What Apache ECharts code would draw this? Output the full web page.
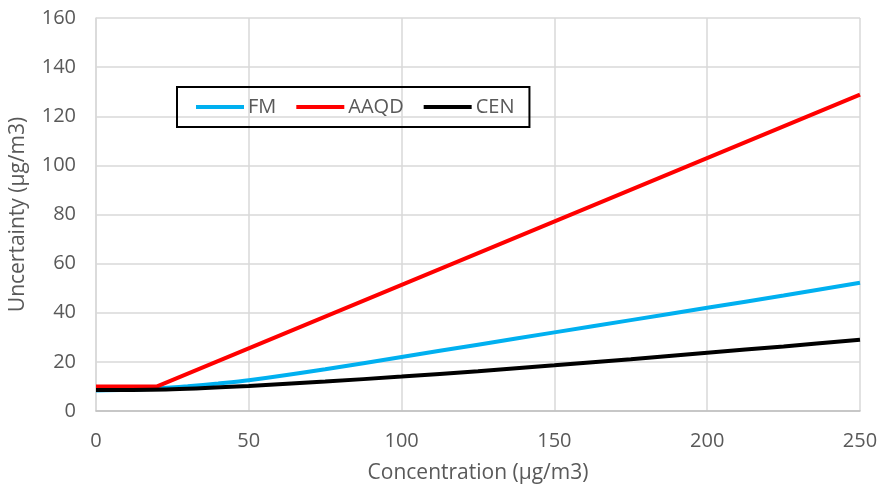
<!DOCTYPE html>
<html>
<head>
<meta charset="utf-8">
<script src="https://cdn.jsdelivr.net/npm/echarts@6/dist/echarts.min.js"></script>
<style>html,body{margin:0;padding:0;background:#fff}#c{width:879px;height:488px}</style>
</head>
<body>
<div id="c"></div>
<script>
const seriesNames = ['FM', 'AAQD', 'CEN'];
const fmData = [[0,8.3],[10,8.6],[20,9.2],[30,10.1],[40,11.2],[50,12.5],[75,17],[100,22],[125,27],[150,32],[175,37],[200,42],[225,47],[250,52.2]];
const aaqdData = [[0,10],[20,10],[250,128.8]];
const cenData = [[0,8.5],[25,8.9],[50,10.2],[75,12],[100,14],[125,16.2],[150,18.6],[175,21.1],[200,23.7],[225,26.3],[250,29]];
const xTitle = 'Concentration (µg/m3)';
const yTitle = 'Uncertainty (µg/m3)';

const font = 'Open Sans';
const fs = 20;
const txt = '#595959';
const chart = echarts.init(document.getElementById('c'));
chart.setOption({
  animation: false,
  grid: {left: 96, right: 19, top: 18, bottom: 77, containLabel: false, outerBoundsMode: 'none'},
  legend: {
    left: 177, top: 87,
    data: seriesNames,
    icon: 'rect', itemWidth: 48, itemHeight: 4, itemGap: 20,
    padding: [10, 15, 10, 19],
    borderColor: '#000', borderWidth: 2,
    textStyle: {fontFamily: font, fontSize: fs, color: txt, padding: [0,0,0,-1]}
  },
  xAxis: {
    type: 'value', min: 0, max: 250, interval: 50,
    name: xTitle, nameLocation: 'middle', nameGap: 52,
    nameTextStyle: {fontFamily: font, fontSize: 21, color: txt},
    axisLine: {show: true, lineStyle: {color: '#bfbfbf', width: 1.5}},
    axisTick: {show: false},
    axisLabel: {fontFamily: font, fontSize: fs, color: txt, margin: 20},
    splitLine: {show: true, lineStyle: {color: '#d9d9d9', width: 1.5}}
  },
  yAxis: {
    type: 'value', min: 0, max: 160, interval: 20,
    name: yTitle, nameLocation: 'middle', nameGap: 67,
    nameTextStyle: {fontFamily: font, fontSize: 21, color: txt},
    axisLine: {show: true, lineStyle: {color: '#d9d9d9', width: 1.5}},
    axisTick: {show: false},
    axisLabel: {fontFamily: font, fontSize: fs, color: txt, margin: 20},
    splitLine: {show: true, lineStyle: {color: '#d9d9d9', width: 1.5}}
  },
  series: [
    {name: 'FM', type: 'line', data: fmData, smooth: 0.3, showSymbol: false, lineStyle: {color: '#00b0f0', width: 4}, itemStyle: {color: '#00b0f0'}},
    {name: 'AAQD', type: 'line', data: aaqdData, showSymbol: false, lineStyle: {color: '#ff0000', width: 4}, itemStyle: {color: '#ff0000'}},
    {name: 'CEN', type: 'line', data: cenData, smooth: 0.3, showSymbol: false, lineStyle: {color: '#000000', width: 4}, itemStyle: {color: '#000000'}}
  ]
});
</script>
</body>
</html>
